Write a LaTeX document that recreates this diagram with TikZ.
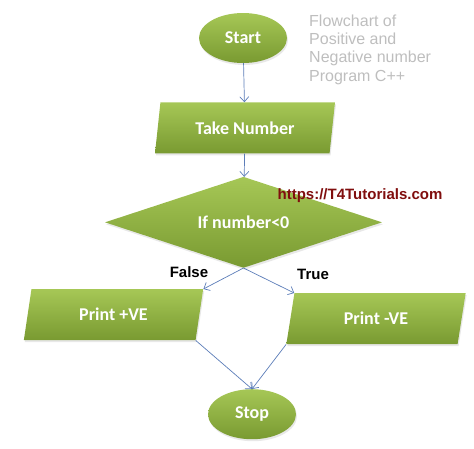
\documentclass[tikz,border=0pt]{standalone}
\usepackage{fontspec}
\setmainfont{Liberation Sans}
\newfontfamily\shapefont{Carlito}
\usetikzlibrary{shapes}
\usetikzlibrary{positioning}
\usetikzlibrary{arrows.meta}
\usetikzlibrary{shadows}
\definecolor{leafTop}{RGB}{166,199,86}
\definecolor{leafBot}{RGB}{121,154,49}
\definecolor{flowBlue}{RGB}{92,125,184}
\definecolor{noteGrey}{RGB}{190,190,190}
\definecolor{siteRed}{RGB}{128,14,14}
\tikzstyle{block} = [top color=leafTop, bottom color=leafBot, text=white,
font=\shapefont\bfseries\fontsize{18}{18}\selectfont, inner sep=0pt,
drop shadow={opacity=0.18, shadow xshift=1pt, shadow yshift=-2pt}]
\tikzstyle{term} = [block, ellipse, minimum width=88pt, minimum height=50pt]
\tikzstyle{io} = [block, trapezium, trapezium left angle=76, trapezium right angle=104,
trapezium stretches=true, minimum width=180pt, minimum height=51pt]
\tikzstyle{decision} = [block, diamond, aspect=3.04, minimum width=277pt, minimum height=91pt]
\tikzstyle{caption} = [font=\bfseries\fontsize{15}{15}\selectfont]
\tikzstyle{note} = [font=\fontsize{16}{18.3}\selectfont, text=noteGrey, align=left, inner sep=0pt]
\tikzset{>={Straight Barb[length=5pt,width=9pt]}}
\newcommand{\edge}[3][]{ %
  % Connect all nodes #2 to all nodes #3.
  \foreach \x in {#2} { %
    \foreach \y in {#3} { %
      \path (\x) edge [->,draw=flowBlue,line width=0.7pt,#1] (\y) ;%
    } ;
  } ;
}

\begin{document}
\begin{tikzpicture}[x=1pt,y=1pt]
  \useasboundingbox (0,0) rectangle (474,-448);
  \node[term] (start) at (243,-38) {Start};
  \node[io, below=39pt of start, xshift=2pt] (take) {Take Number};
  \node[decision, below=23pt of take, xshift=-1.5pt] (cond) {If number<0};
  \node[io, below=21pt of cond, xshift=-130pt] (plus) {Print +VE};
  \node[io, below=25pt of cond, xshift=132.5pt] (minus) {Print -VE};
  \node[term, below=121pt of cond, xshift=8.5pt] (stop) {Stop};

  \edge {start} {take};
  \edge {take} {cond};
  \edge {cond.south} {plus.top right corner,minus.top left corner};
  \edge {plus.bottom right corner,minus.bottom left corner} {stop.north};

  \node[caption] (false) at (189,-272) {False};
  \node[caption] (true) at (313,-274) {True};
  \node[caption, text=siteRed] (site) at (360,-196) {https://T4Tutorials.com};
  \node[note, anchor=north west] (title) at (309,-14.5) {Flowchart of\\Positive and\\Negative number\\Program C++};
\end{tikzpicture}
\end{document}
